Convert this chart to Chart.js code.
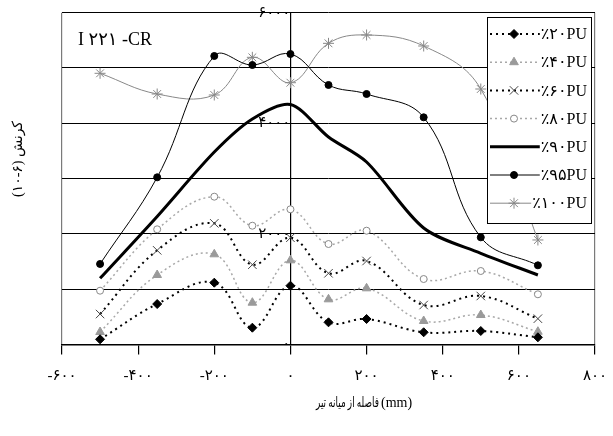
<!DOCTYPE html>
<html><head><meta charset="utf-8">
<script src="https://cdn.jsdelivr.net/npm/chart.js@4.4.1/dist/chart.umd.min.js"></script>
<style>html,body{margin:0;padding:0;background:#fff;}</style>
</head><body>
<canvas id="c" width="613" height="436" style="width:613px;height:436px;display:block"></canvas>
<script>
// ---- data ----
const xPositions = [-500, -350, -200, -100, 0, 100, 200, 350, 500, 650];
const pu20  = [94, 732, 1118, 304, 1063, 401, 461, 221, 244, 130];
const pu40  = [226, 1257, 1631, 756, 1522, 817, 1016, 425, 533, 231];
const pu60  = [551, 1703, 2191, 1443, 1931, 1288, 1510, 714, 877, 467];
const pu80  = [973, 2083, 2673, 2148, 2445, 1817, 2058, 1184, 1329, 908];
const pu90  = [1197, 2316, 3480, 4078, 4340, 3752, 3300, 2107, 1649, 1257];
const pu95  = [1456, 3023, 5217, 5054, 5253, 4693, 4530, 4108, 1938, 1432];
const pu100 = [4904, 4530, 4512, 5193, 4734, 5446, 5597, 5398, 4620, 1890];
const seriesLabels = ['٪۲۰PU', '٪۴۰PU', '٪۶۰PU', '٪۸۰PU', '٪۹۰PU', '٪۹۵PU', '٪۱۰۰PU'];
const yLabelValues = [0, 2000, 4000, 6000];
const xTitleFa = 'فاصله از میانه تیر';
const xTitleUnit = '(mm)';
const yTitle = '(۱۰-۶) کرنش';
const specimenLabel = 'I ۲۲۱ -CR';

const FONT = "'Liberation Serif', 'DejaVu Sans', serif";
const fa = v => String(v).replace(/\d/g, d => '۰۱۲۳۴۵۶۷۸۹'[+d]);

const styles = [
  {borderColor:'#000', borderWidth:2, borderDash:[2,4], pointStyle:'rectRot', pointRadius:4.5, pointBackgroundColor:'#000', pointBorderColor:'#000', pointBorderWidth:1},
  {borderColor:'#a8a8a8', borderWidth:1.5, borderDash:[2,3], pointStyle:'triangle', pointRadius:5, pointBackgroundColor:'#9a9a9a', pointBorderColor:'#9a9a9a', pointBorderWidth:1},
  {borderColor:'#000', borderWidth:2, borderDash:[2,4], pointStyle:'crossRot', pointRadius:6, pointBackgroundColor:'#444', pointBorderColor:'#444', pointBorderWidth:1},
  {borderColor:'#a8a8a8', borderWidth:1.5, borderDash:[2,3], pointStyle:'circle', pointRadius:3.5, pointBackgroundColor:'#fff', pointBorderColor:'#888', pointBorderWidth:1},
  {borderColor:'#000', borderWidth:3, pointStyle:'circle', pointRadius:0, pointBackgroundColor:'#000', pointBorderColor:'#000', pointBorderWidth:0},
  {borderColor:'#000', borderWidth:1, pointStyle:'circle', pointRadius:3.5, pointBackgroundColor:'#000', pointBorderColor:'#000', pointBorderWidth:1},
  {borderColor:'#888', borderWidth:1, pointStyle:'star', pointRadius:5.5, pointBackgroundColor:'#888', pointBorderColor:'#888', pointBorderWidth:1}
];
const allSeries = [pu20, pu40, pu60, pu80, pu90, pu95, pu100];
const datasets = allSeries.map((vals, i) => Object.assign({
  label: seriesLabels[i],
  data: xPositions.map((x, j) => ({x, y: vals[j]})),
  fill: false,
  tension: i === 4 ? 0.3 : 0.4
}, styles[i]));

const textPlugin = {
  id: 'texts',
  afterDraw(chart) {
    const ctx = chart.ctx;
    ctx.save();
    ctx.direction = 'ltr';
    ctx.fillStyle = '#000';
    ctx.textBaseline = 'middle';
    ctx.font = '18px ' + FONT;
    ctx.textAlign = 'left';
    ctx.fillText(specimenLabel, 78, 40);
    // x axis title: Persian words on the left, unit on the right
    ctx.font = '14px ' + FONT;
    ctx.textAlign = 'left';
    const wFa = Math.min(ctx.measureText(xTitleFa).width, 63);
    ctx.fillText(xTitleFa, 379 - wFa, 403, 63);
    ctx.fillText(xTitleUnit, 381, 403);
    // y axis title
    ctx.textAlign = 'center';
    ctx.translate(18.5, 159);
    ctx.rotate(-Math.PI / 2);
    ctx.fillText(yTitle, 0, 0, 76);
    ctx.restore();
  }
};

const legendPlugin = {
  id: 'boxLegend',
  afterDraw(chart) {
    const ctx = chart.ctx;
    const bx = 487, by = 17, bw = 104, bh = 206;
    ctx.save();
    ctx.direction = 'ltr';
    ctx.fillStyle = '#fff';
    ctx.fillRect(bx, by, bw, bh);
    ctx.strokeStyle = '#000';
    ctx.lineWidth = 1;
    ctx.strokeRect(bx + 0.5, by + 0.5, bw, bh);
    chart.data.datasets.forEach((ds, i) => {
      const y = 34 + i * 28.2;
      ctx.font = '16px ' + FONT;
      const tw = Math.min(ctx.measureText(ds.label).width, 58);
      const textRight = 587;
      const lineEnd = textRight - tw - 1;
      ctx.save();
      ctx.strokeStyle = ds.borderColor;
      ctx.lineWidth = ds.borderWidth;
      ctx.setLineDash(ds.borderDash || []);
      ctx.beginPath();
      ctx.moveTo(490, y);
      ctx.lineTo(lineEnd, y);
      ctx.stroke();
      ctx.setLineDash([]);
      if (ds.pointRadius > 0) {
        ctx.fillStyle = ds.pointBackgroundColor;
        ctx.strokeStyle = ds.pointBorderColor;
        ctx.lineWidth = ds.pointBorderWidth;
        Chart.helpers.drawPoint(ctx, {pointStyle: ds.pointStyle, radius: ds.pointRadius, rotation: 0, borderWidth: ds.pointBorderWidth}, 514, y);
      }
      ctx.restore();
      ctx.fillStyle = '#000';
      ctx.font = '16px ' + FONT;
      ctx.textAlign = 'left';
      ctx.textBaseline = 'middle';
      ctx.fillText(ds.label, textRight - tw, y + 1, 58);
    });
    ctx.restore();
  }
};

new Chart(document.getElementById('c'), {
  type: 'line',
  data: { datasets },
  options: {
    responsive: false,
    animation: false,
    devicePixelRatio: 1,
    layout: { padding: { left: 62, right: 18, top: 12.7, bottom: 38.5 } },
    plugins: { legend: { display: false }, tooltip: { enabled: false }, title: { display: false } },
    scales: {
      x: {
        type: 'linear', min: -600, max: 800,
        afterFit: s => { s.paddingLeft = 0; s.paddingRight = 0; },
        ticks: { stepSize: 200, autoSkip: false, maxRotation: 0, padding: 12.5, color: '#000',
                 font: { family: FONT, size: 15 }, callback: v => fa(v) },
        grid: {
          color: c => (c.tick && (c.tick.value === -600 || c.tick.value === 800)) ? '#7a7a7a' : 'rgba(0,0,0,0)',
          tickColor: '#000', tickLength: 10, lineWidth: 1.2
        },
        border: { display: true, color: '#000', width: 1.5 }
      },
      y: {
        type: 'linear', min: 0, max: 6000,
        position: { x: 0 },
        ticks: { stepSize: 1000, padding: 3, color: '#000', font: { family: FONT, size: 15 },
                 callback: v => yLabelValues.includes(v) ? fa(v) : '' },
        grid: { color: '#000', lineWidth: 1, drawTicks: false },
        border: { display: true, color: '#000', width: 1.2 }
      }
    }
  },
  plugins: [textPlugin, legendPlugin]
});
</script>
</body></html>
